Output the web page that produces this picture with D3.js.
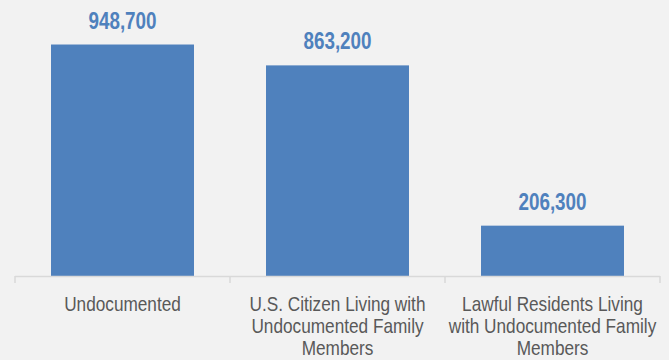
<!DOCTYPE html>
<html lang="en">
<head>
  <meta charset="UTF-8">
  <title>Population by Status</title>
  <style>
    body { margin: 0; background: #f2f2f2; }
    svg { display: block; }
    text { font-family: "Liberation Sans Narrow", "Arial Narrow", "Liberation Sans", Arial, sans-serif; }
  </style>
</head>
<body>
  <div id="chart"></div>

  <script src="https://d3js.org/d3.v7.min.js"></script>
  <script>

    const categories = [
      "Undocumented",
      "U.S. Citizen Living with Undocumented Family Members",
      "Lawful Residents Living with Undocumented Family Members"
    ];
    const values = [948700, 863200, 206300];

    const width = 669,
          height = 360,
          margin = {top: 32, right: 9, bottom: 84, left: 15};

    // no narrow font installed, so squeeze text horizontally
    const squeeze = 0.82;

    const svg = d3.select("#chart")
      .append("svg")
      .attr("width", width)
      .attr("height", height)
      .attr("viewBox", [0, 0, width, height]);

    svg.append("rect")
      .attr("width", width)
      .attr("height", height)
      .attr("fill", "#f2f2f2");

    const x = d3.scaleBand(categories, [margin.left, width - margin.right])
      .paddingInner(0.335)
      .paddingOuter(0.1675);

    const y = d3.scaleLinear([0, 1000000], [height - margin.bottom, margin.top]);

    // bars
    svg.append("g")
      .selectAll("rect")
      .data(values)
      .join("rect")
      .attr("x", (d, i) => x(categories[i]))
      .attr("y", d => y(d))
      .attr("width", x.bandwidth())
      .attr("height", d => y(0) - y(d))
      .attr("fill", "#4f81bd");

    // value labels
    svg.append("g")
      .selectAll("text")
      .data(values)
      .join("text")
      .attr("transform", (d, i) =>
        `translate(${x(categories[i]) + x.bandwidth() / 2},${y(d) - 16}) scale(${squeeze},1)`)
      .attr("text-anchor", "middle")
      .attr("fill", "#4f81bd")
      .attr("font-size", 23)
      .attr("font-weight", "bold")
      .text(d => d3.format(",")(d));

    // axis line with ticks at band edges
    const step = x.step();
    const edges = d3.range(categories.length + 1).map(i => margin.left + i * step);
    const axis = svg.append("g").attr("stroke", "#d9d9d9").attr("stroke-width", 1.5);
    axis.append("line")
      .attr("x1", edges[0]).attr("x2", edges[edges.length - 1])
      .attr("y1", y(0) + 0.5).attr("y2", y(0) + 0.5);
    axis.selectAll(".tick")
      .data(edges)
      .join("line")
      .attr("class", "tick")
      .attr("x1", d => d).attr("x2", d => d)
      .attr("y1", y(0)).attr("y2", y(0) + 7);

    // category labels, wrapped
    const labels = svg.append("g")
      .selectAll("text")
      .data(categories)
      .join("text")
      .attr("transform", d =>
        `translate(${x(d) + x.bandwidth() / 2},${y(0) + 35}) scale(${squeeze},1)`)
      .attr("text-anchor", "middle")
      .attr("fill", "#595959")
      .attr("font-size", 21);

    labels.each(function(d) {
      const text = d3.select(this);
      const words = d.split(" ");
      let line = [];
      let tspan = text.append("tspan").attr("x", 0).attr("dy", 0);
      for (const w of words) {
        line.push(w);
        tspan.text(line.join(" "));
        if (tspan.node().getComputedTextLength() * squeeze > 212 && line.length > 1) {
          line.pop();
          tspan.text(line.join(" "));
          line = [w];
          tspan = text.append("tspan").attr("x", 0).attr("dy", 22).text(w);
        }
      }
    });

  </script>
</body>
</html>
